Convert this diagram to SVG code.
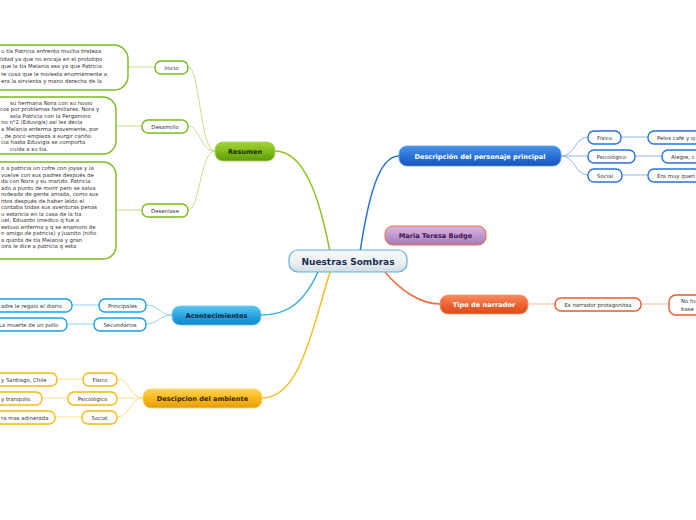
<svg xmlns="http://www.w3.org/2000/svg" width="696" height="520" viewBox="0 0 696 520">
<defs>
<linearGradient id="gCenter" x1="0" y1="0" x2="0" y2="1"><stop offset="0" stop-color="#f7f9fb"/><stop offset="0.5" stop-color="#eef2f5"/><stop offset="1" stop-color="#d3dbe2"/></linearGradient>
<linearGradient id="gGreen" x1="0" y1="0" x2="0" y2="1"><stop offset="0" stop-color="#a3d33a"/><stop offset="0.5" stop-color="#80bb1c"/><stop offset="1" stop-color="#5d9a0c"/></linearGradient>
<linearGradient id="gBlue" x1="0" y1="0" x2="0" y2="1"><stop offset="0" stop-color="#4b93ea"/><stop offset="0.5" stop-color="#2a72d8"/><stop offset="1" stop-color="#1553bd"/></linearGradient>
<linearGradient id="gCyan" x1="0" y1="0" x2="0" y2="1"><stop offset="0" stop-color="#5cc6f0"/><stop offset="0.5" stop-color="#2aa7e2"/><stop offset="1" stop-color="#1187c9"/></linearGradient>
<linearGradient id="gYellow" x1="0" y1="0" x2="0" y2="1"><stop offset="0" stop-color="#fdd457"/><stop offset="0.5" stop-color="#f7b91c"/><stop offset="1" stop-color="#e59c09"/></linearGradient>
<linearGradient id="gOrange" x1="0" y1="0" x2="0" y2="1"><stop offset="0" stop-color="#f78c62"/><stop offset="0.5" stop-color="#ee6534"/><stop offset="1" stop-color="#d9491a"/></linearGradient>
<linearGradient id="gPurple" x1="0" y1="0" x2="0" y2="1"><stop offset="0" stop-color="#d7b8e2"/><stop offset="0.5" stop-color="#c19ad0"/><stop offset="1" stop-color="#a27ab5"/></linearGradient>
</defs>
<style>
text{font-family:"DejaVu Sans","Liberation Sans",sans-serif;}
.main{font-size:6.6px;font-weight:bold;text-anchor:middle;}
.child{font-size:5.4px;fill:#333;text-anchor:middle;}
.leaf{font-size:5.4px;fill:#333;}
.box{font-size:5.4px;fill:#333;}
.cw{fill:#fff;stroke-width:1.4;}
.c{fill:none;stroke-width:1;}
.cm{fill:none;stroke-width:1.5;}
</style>
<g id="connectors">
<path class="cm" stroke="#8cc322" d="M275 151 C305 151 320 200 330 252"/>
<path class="cm" stroke="#2a75da" d="M360 252 C368 200 378 156 399 156"/>
<path class="cm" stroke="#35ace2" d="M318 272 C305 300 290 315 261 315"/>
<path class="cm" stroke="#f7bb22" d="M330 272 C312 330 300 398 262 398"/>
<path class="cm" stroke="#ef6a3a" d="M385 272 C400 290 420 304 440 304"/>
<g stroke="#c4de8c">
<path class="c" d="M215 151 C200 151 200 67 188 67"/>
<path class="c" d="M215 151 C200 151 200 126 188 126"/>
<path class="c" d="M215 151 C200 151 200 210 188 210"/>
<path class="c" d="M155 67 L128 67"/>
<path class="c" d="M142 126 L116 126"/>
<path class="c" d="M142 210 L116 210"/>
</g>
<g stroke="#8fb7ee">
<path class="c" d="M561 156 C575 156 575 137 588 137"/>
<path class="c" d="M561 156 L588 156"/>
<path class="c" d="M561 156 C575 156 575 175 588 175"/>
<path class="c" d="M621 137 L648 137"/>
<path class="c" d="M635 156 L662 156"/>
<path class="c" d="M622 175 L648 175"/>
</g>
<g stroke="#96d3f2">
<path class="c" d="M172 315 C160 315 158 305 146 305"/>
<path class="c" d="M172 315 C160 315 158 324 146 324"/>
<path class="c" d="M99 305 L72 305"/>
<path class="c" d="M94 324 L67 324"/>
</g>
<g stroke="#fbde8e">
<path class="c" d="M143 398 C130 398 130 379 117 379"/>
<path class="c" d="M143 398 L117 398"/>
<path class="c" d="M143 398 C130 398 130 417 117 417"/>
<path class="c" d="M83 379 L57 379"/>
<path class="c" d="M68 398 L42 398"/>
<path class="c" d="M82 417 L55 417"/>
</g>
<g stroke="#f8b9a0">
<path class="c" d="M528 304 L555 304"/>
<path class="c" d="M641 304 L669 304"/>
</g>
</g>
<g id="center"><rect x="289" y="250" width="118" height="22" rx="9" fill="url(#gCenter)" stroke="#5fb0e2" stroke-width="1.2"/><text x="348" y="264.5" font-size="9" font-weight="bold" fill="#1b2d55" text-anchor="middle">Nuestras Sombras</text></g>
<g id="budge"><rect x="385" y="226" width="101" height="19" rx="8" fill="url(#gPurple)" stroke="#f06a3a" stroke-width="1"/><text class="main" x="435.5" y="238" fill="#3e1650">Maria Teresa Budge</text></g>
<g id="descripcion"><rect x="399" y="146" width="162" height="20" rx="8" fill="url(#gBlue)" stroke="#5a9be8" stroke-width="0.8"/><text class="main" x="480" y="158.5" fill="#fff">Descripción del personaje principal</text></g>
<g id="resumen"><rect x="215" y="142" width="60" height="19" rx="8" fill="url(#gGreen)" stroke="#a8d451" stroke-width="0.8"/><text class="main" x="245" y="154" fill="#1a2a05">Resumen</text></g>
<g id="acontecimientos"><rect x="172" y="306" width="89" height="19" rx="8" fill="url(#gCyan)" stroke="#6ccaf2" stroke-width="0.8"/><text class="main" x="216.5" y="318" fill="#0c2540">Acontecimientos</text></g>
<g id="ambiente"><rect x="143" y="389" width="119" height="19" rx="8" fill="url(#gYellow)" stroke="#fcd660" stroke-width="0.8"/><text class="main" x="202.5" y="401" fill="#3a2600">Descipcion del ambiente</text></g>
<g id="narrador"><rect x="440" y="295" width="88" height="19" rx="8" fill="url(#gOrange)" stroke="#f59a78" stroke-width="0.8"/><text class="main" x="484" y="307" fill="#fff">Tipo de narrador</text></g>

<g id="inicio"><rect class="cw" stroke="#7cbb1c" x="155" y="61" width="33" height="13" rx="6"/><text class="child" x="171.5" y="69.5">Inicio</text></g>
<g id="desarrollo"><rect class="cw" stroke="#7cbb1c" x="142" y="120" width="46" height="13" rx="6"/><text class="child" x="165" y="128.5">Desarrollo</text></g>
<g id="desenlase"><rect class="cw" stroke="#7cbb1c" x="142" y="204" width="46" height="13" rx="6"/><text class="child" x="165" y="212.5">Desenlase</text></g>

<g id="box-inicio"><rect class="cw" stroke="#7cbb1c" x="-14" y="45" width="142" height="45" rx="14"/>
<text class="box" x="1" y="53">u tía Patricia enfrenta mucha tristeza</text>
<text class="box" x="0" y="60.5">lidad ya que no encaja en el prototipo</text>
<text class="box" x="1" y="68">que la tía Melania sea ya que Patricia</text>
<text class="box" x="1" y="75.5">re cosa que le molesta enormemente a</text>
<text class="box" x="1" y="83">era la sirvienta y mano derecha de la</text>
</g>
<g id="box-desarrollo"><rect class="cw" stroke="#7cbb1c" x="-14" y="97" width="130" height="57" rx="13"/>
<text class="box" x="10" y="104.5">su hermana Nora con su novio</text>
<text class="box" x="0" y="111.1">cos por problemas familiares. Nora y</text>
<text class="box" x="10" y="117.7">sola Patricia con la Pergamino</text>
<text class="box" x="1" y="124.3">no n°2 (Eduvigis) así les decía</text>
<text class="box" x="1" y="130.9">a Melania enferma gravemente, por</text>
<text class="box" x="1" y="137.5">, de poco empieza a surgir cariño</text>
<text class="box" x="1" y="144.1">cia hasta Eduvigis se comporta</text>
<text class="box" x="10" y="150.7">cuida a su tía.</text>
</g>
<g id="box-desenlase"><rect class="cw" stroke="#7cbb1c" x="-14" y="162" width="130" height="97" rx="13"/>
<text class="box" x="1" y="170">o a patricia un cofre con joyas y la</text>
<text class="box" x="1" y="176.5">vuelve con sus padres después de</text>
<text class="box" x="1" y="183">da con Nora y su marido. Patricia</text>
<text class="box" x="1" y="189.5">ado a punto de morir pero se salva</text>
<text class="box" x="1" y="196">rodeada de gente amada, como sus</text>
<text class="box" x="1" y="202.5">ntos después de haber leído el</text>
<text class="box" x="1" y="209">contaba todas sus aventuras penas</text>
<text class="box" x="1" y="215.5">u estancia en la casa de la tía</text>
<text class="box" x="1" y="222">uel, Eduardo (medico q fue a</text>
<text class="box" x="1" y="228.5">estuvo enferma y q se enamoro de</text>
<text class="box" x="1" y="235">n amigo de patricia) y Juanito (niño</text>
<text class="box" x="1" y="241.5">a quinta de tía Melania y gran</text>
<text class="box" x="1" y="248">iora le dice a patricia q esta</text>
</g>

<g id="d-fisico"><rect class="cw" stroke="#2a73d9" x="588" y="131" width="33" height="13" rx="6"/><text class="child" x="604.5" y="139.5">Físico</text></g>
<g id="d-psico"><rect class="cw" stroke="#2a73d9" x="588" y="150" width="47" height="13" rx="6"/><text class="child" x="611.5" y="158.5">Psicológico</text></g>
<g id="d-social"><rect class="cw" stroke="#2a73d9" x="588" y="169" width="34" height="13" rx="6"/><text class="child" x="605" y="177.5">Social</text></g>
<g id="d-fisico-leaf"><rect class="cw" stroke="#2a73d9" x="648" y="131" width="70" height="13" rx="6"/><text class="leaf" x="657" y="139.5">Pelos café y oj</text></g>
<g id="d-psico-leaf"><rect class="cw" stroke="#2a73d9" x="662" y="150" width="60" height="13" rx="6"/><text class="leaf" x="671" y="158.5">Alegre, c</text></g>
<g id="d-social-leaf"><rect class="cw" stroke="#2a73d9" x="648" y="169" width="70" height="13" rx="6"/><text class="leaf" x="657" y="177.5">Era muy queri</text></g>

<g id="a-princ"><rect class="cw" stroke="#1ba1e2" x="99" y="299" width="47" height="13" rx="6"/><text class="child" x="122.5" y="307.5">Principales</text></g>
<g id="a-sec"><rect class="cw" stroke="#1ba1e2" x="94" y="318" width="52" height="13" rx="6"/><text class="child" x="120" y="326.5">Secundarios</text></g>
<g id="a-princ-leaf"><rect class="cw" stroke="#1ba1e2" x="-14" y="299" width="86" height="13" rx="6"/><text class="leaf" x="1" y="307.5">adre le regalo el diario</text></g>
<g id="a-sec-leaf"><rect class="cw" stroke="#1ba1e2" x="-14" y="318" width="81" height="13" rx="6"/><text class="leaf" x="-1" y="326.5">La muerte de un pollo</text></g>

<g id="m-fisico"><rect class="cw" stroke="#f5b915" x="83" y="373" width="34" height="13" rx="6"/><text class="child" x="100" y="381.5">Físico</text></g>
<g id="m-psico"><rect class="cw" stroke="#f5b915" x="68" y="392" width="49" height="13" rx="6"/><text class="child" x="92.5" y="400.5">Psicológico</text></g>
<g id="m-social"><rect class="cw" stroke="#f5b915" x="82" y="411" width="35" height="13" rx="6"/><text class="child" x="99.5" y="419.5">Social</text></g>
<g id="m-fisico-leaf"><rect class="cw" stroke="#f5b915" x="-14" y="373" width="71" height="13" rx="6"/><text class="leaf" x="1" y="381.5">y Santiago, Chile</text></g>
<g id="m-psico-leaf"><rect class="cw" stroke="#f5b915" x="-14" y="392" width="56" height="13" rx="6"/><text class="leaf" x="1" y="400.5">y tranquilo.</text></g>
<g id="m-social-leaf"><rect class="cw" stroke="#f5b915" x="-14" y="411" width="69" height="13" rx="6"/><text class="leaf" x="1" y="419.5">ra mas adinerada</text></g>

<g id="n-prot"><rect class="cw" stroke="#ee5a2a" x="555" y="298" width="86" height="13" rx="6"/><text class="child" x="598" y="306.5">Es narrador protagonitsa</text></g>
<g id="n-leaf"><rect class="cw" stroke="#ee5a2a" x="669" y="295" width="50" height="20" rx="7"/><text class="leaf" x="681" y="303">No hu</text><text class="leaf" x="681" y="311">base</text></g>
</svg>
